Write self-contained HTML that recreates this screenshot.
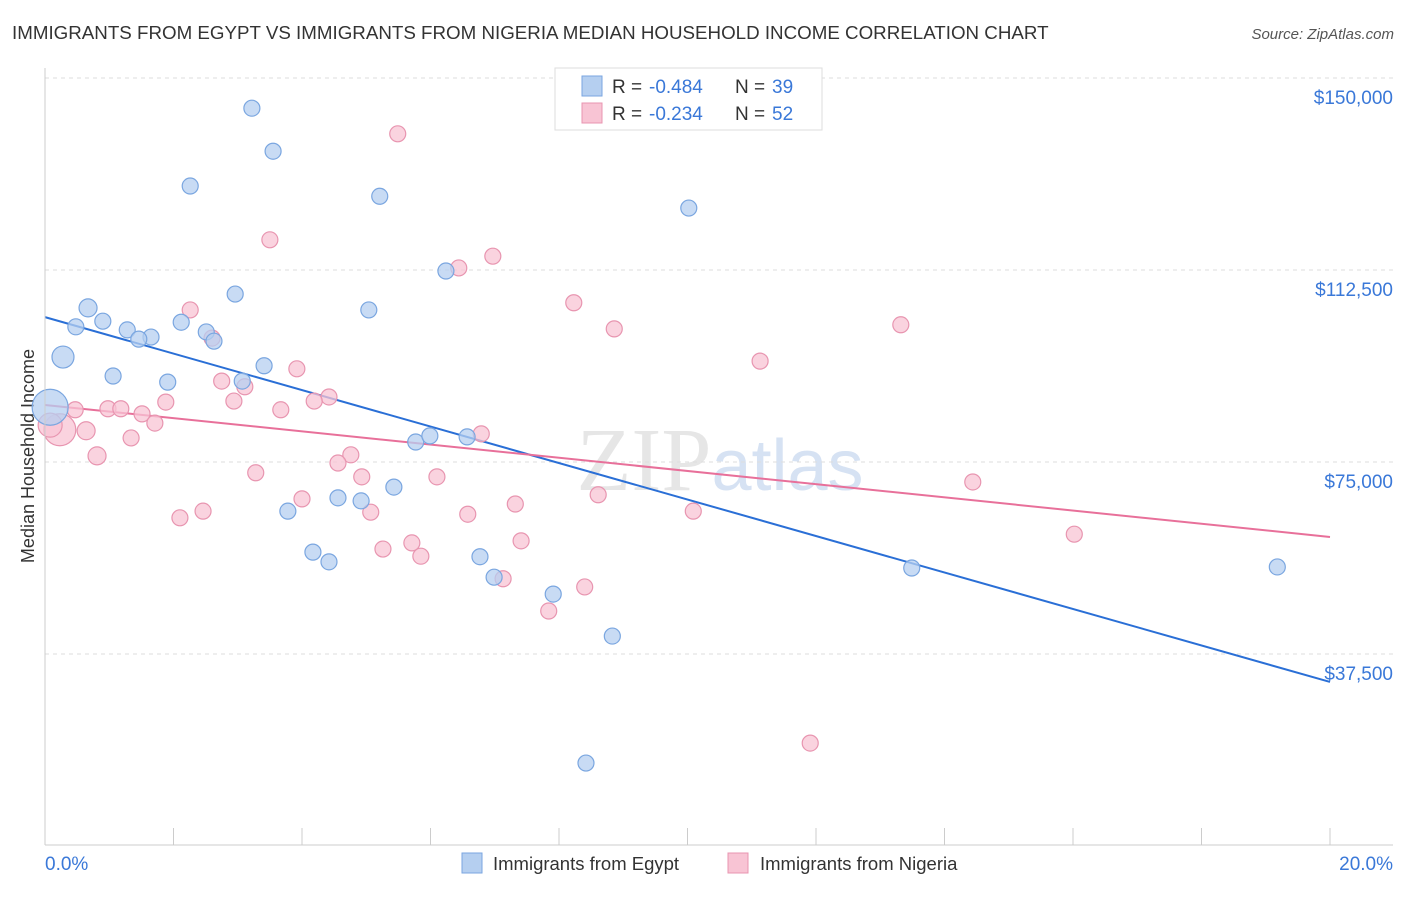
<!DOCTYPE html>
<html><head><meta charset="utf-8"><style>
body{margin:0;background:#fff;font-family:"Liberation Sans",sans-serif;}
</style></head><body>
<svg width="1406" height="892" xmlns="http://www.w3.org/2000/svg" id="chart" font-family="Liberation Sans, sans-serif">
<text x="12" y="39" font-size="18.75" fill="#333">IMMIGRANTS FROM EGYPT VS IMMIGRANTS FROM NIGERIA MEDIAN HOUSEHOLD INCOME CORRELATION CHART</text>
<text x="1394" y="39" font-size="15" fill="#555" text-anchor="end" font-style="italic">Source: ZipAtlas.com</text>
<text x="720" y="490" font-size="90" fill="#e6e6e6" text-anchor="middle" font-family="Liberation Serif, serif">ZIP<tspan fill="#d6e2f3" font-family="Liberation Sans, sans-serif" font-size="72">atlas</tspan></text>
<text transform="translate(34,456) rotate(-90)" font-size="18" fill="#333" text-anchor="middle">Median Household Income</text>
<g id="grid"></g><g id="ticks"></g><g id="lines"></g><g id="pts"></g>
<line x1="45" y1="68" x2="45" y2="845" stroke="#ccc"/>
<line x1="45" y1="845" x2="1393" y2="845" stroke="#ccc"/>
<text x="45" y="870" font-size="19" fill="#3a78d8">0.0%</text>
<text x="1393" y="870" font-size="19" fill="#3a78d8" text-anchor="end">20.0%</text>
<g>
<rect x="555" y="68" width="267" height="62" fill="#fff" stroke="#ddd"/>
<rect x="582" y="76" width="20" height="20" fill="#b5cff0" stroke="#7aa6e0"/>
<rect x="582" y="103" width="20" height="20" fill="#f8c4d4" stroke="#e895b0"/>
<text y="93" font-size="19" fill="#333"><tspan x="612">R =</tspan><tspan x="649" fill="#3a78d8">-0.484</tspan><tspan x="735">N =</tspan><tspan x="772" fill="#3a78d8">39</tspan></text>
<text y="120" font-size="19" fill="#333"><tspan x="612">R =</tspan><tspan x="649" fill="#3a78d8">-0.234</tspan><tspan x="735">N =</tspan><tspan x="772" fill="#3a78d8">52</tspan></text>
</g>
<g>
<rect x="462" y="853" width="20" height="20" fill="#b5cff0" stroke="#7aa6e0"/>
<text x="493" y="870" font-size="18.5" fill="#333">Immigrants from Egypt</text>
<rect x="728" y="853" width="20" height="20" fill="#f8c4d4" stroke="#e895b0"/>
<text x="760" y="870" font-size="18.5" fill="#333">Immigrants from Nigeria</text>
</g>
</svg>
<script>
const yTicks=[150000,112500,75000,37500];
const yTickLabels=["$150,000","$112,500","$75,000","$37,500"];
const xTicks=[0,2,4,6,8,10,12,14,16,18,20];
const egyptX=[3.22,3.55,2.26,5.21,10.02,6.24,2.96,0.67,5.04,0.48,0.90,2.12,1.28,1.65,1.46,2.51,2.63,0.28,3.41,1.06,1.91,3.07,0.08,5.77,5.99,6.57,5.43,4.56,4.92,3.78,4.17,4.42,6.77,6.99,7.91,8.83,13.49,19.18,8.42];
const egyptY=[144100,135700,128900,126900,124600,112300,107800,105100,104700,101400,102500,102300,100800,99400,99000,100400,98600,95500,93800,91800,90600,90800,85700,78900,80100,79900,70100,68000,67400,65400,57400,55500,56500,52500,49200,41000,54300,54500,16200];
const egyptR=[8,8,8,8,8,8,8,9,8,8,8,8,8,8,8,8,8,11,8,8,8,8,18,8,8,8,8,8,8,8,8,8,8,8,8,8,8,8,8];
const nigX=[5.49,3.50,6.97,6.44,2.26,8.23,8.86,13.32,2.60,11.13,3.92,2.75,3.11,4.42,2.94,4.19,1.88,0.98,1.18,0.47,1.51,3.67,1.71,0.64,0.23,1.34,6.79,0.81,4.76,4.56,4.93,3.28,6.10,4.00,8.61,7.32,2.10,2.46,5.07,6.58,10.09,14.44,16.02,7.41,5.26,5.71,5.85,7.13,8.40,7.84,11.91,0.08];
const nigY=[139100,118400,115200,112900,104700,106100,101000,101800,99200,94700,93200,90800,89700,87700,86900,86900,86700,85400,85400,85200,84400,85200,82600,81100,81300,79700,80500,76200,76400,74800,72100,72900,72100,67800,68600,66800,64100,65400,65200,64800,65400,71100,60900,59600,58000,59200,56600,52200,50600,45900,20100,82200];
const nigR=[8,8,8,8,8,8,8,8,8,8,8,8,8,8,8,8,8,8,8,8,8,8,8,9,16,8,8,9,8,8,8,8,8,8,8,8,8,8,8,8,8,8,8,8,8,8,8,8,8,8,8,12];
const egyptTrend=[103300,32040];
const nigTrend=[86140,60360];
const NS="http://www.w3.org/2000/svg";
const sx=v=>45+v/20*1285;
const sy=v=>78+(150000-v)/37500*192;
function mk(t,a,p){const e=document.createElementNS(NS,t);for(const k in a)e.setAttribute(k,a[k]);document.getElementById(p).appendChild(e);return e;}
yTicks.forEach((t,i)=>{
 const l=mk('line',{x1:45,x2:1393,y1:sy(t),y2:sy(t),stroke:'#ddd','stroke-dasharray':'4,4'},'grid');
 
 
 const tx=mk('text',{x:1393,y:sy(t)+26,'font-size':19,fill:'#3a78d8','text-anchor':'end'},'grid');
 tx.textContent=yTickLabels[i];
 
 
});
xTicks.forEach(t=>{
 const l=mk('line',{x1:sx(t),x2:sx(t),y1:828,y2:845,stroke:'#ccc'},'ticks');
 
 
});
function pts(X,Y,R,fill,stroke,name){X.forEach((x,i)=>{
 const c=mk('circle',{cx:sx(x),cy:sy(Y[i]),r:R[i],fill:fill,stroke:stroke,'stroke-width':1.2,'fill-opacity':0.75},'pts');
 
 
});}
pts(nigX,nigY,nigR,'#f8c4d4','#e895b0','nigeria-point');
pts(egyptX,egyptY,egyptR,'#b5cff0','#7aa6e0','egypt-point');
const l1=mk('line',{x1:sx(0),y1:sy(egyptTrend[0]),x2:sx(20),y2:sy(egyptTrend[1]),stroke:'#2a6fd6','stroke-width':2},'lines');


const l2=mk('line',{x1:sx(0),y1:sy(nigTrend[0]),x2:sx(20),y2:sy(nigTrend[1]),stroke:'#e8709a','stroke-width':2},'lines');


</script>
</body></html>
